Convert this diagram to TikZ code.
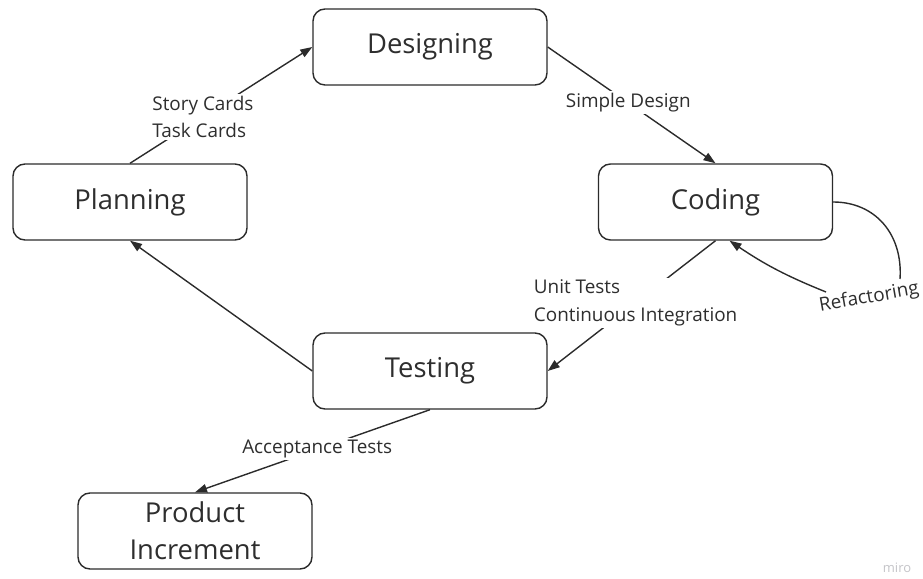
\documentclass[tikz,border=0pt]{standalone}
\usepackage{fontspec}
\setmainfont{Open Sans}
\usetikzlibrary{arrows.meta}
\definecolor{ink}{HTML}{2B2B2B}
\definecolor{txt}{HTML}{2E2E2E}
\definecolor{mark}{HTML}{C4C4C8}
\begin{document}
\begin{tikzpicture}[x=1pt,y=1pt,
  stage/.style={draw=ink, line width=1.4pt, rounded corners=12pt,
    minimum width=234pt, minimum height=76pt, inner sep=0pt,
    font=\fontsize{27.4}{37}\selectfont, text=txt, align=center},
  flow/.style={draw=ink, line width=1.4pt, -{Triangle[length=12pt,width=8.5pt]}},
  plain/.style={draw=ink, line width=1.4pt},
  tag/.style={fill=white, inner sep=2pt, font=\fontsize{18.9}{27.5}\selectfont, text=txt},
]
\useasboundingbox (0,0) rectangle (923,578);

% process stages
\node[stage] (designing) at (430,531)   {Designing};
\node[stage] (planning)  at (130,376) {Planning};
\node[stage] (coding)    at (715.5,376) {Coding};
\node[stage] (testing)   at (430,207) {Testing};
\node[stage] (product)   at (195,47)    {Product\\Increment};

% transitions between stages
\draw[flow] (planning.north) -- node[tag, pos=0.40, align=left] {Story Cards\\Task Cards} (designing.west);
\draw[flow] (designing.east) -- node[tag, pos=0.48] {Simple Design} (coding.north);
\draw[flow] (coding.south) -- node[tag, pos=0.476, align=left] {Unit Tests\\Continuous Integration} (testing.east);
\draw[flow] (testing.west) -- (planning.south);
\draw[flow] (testing.south) -- node[tag, pos=0.48] {Acceptance Tests} (product.north);

% refactoring loop on the coding stage
\node[tag, rotate=10, fill=none, inner sep=1pt] (refac) at (869,280) {Refactoring};
\coordinate (loopout) at (900,299);
\coordinate (loopin)  at (826,286);
\coordinate (loopend) at ([xshift=14pt]coding.south);
\draw[plain] (coding.east) .. controls (875,376) and (903,344) .. (loopout);
\draw[flow] (loopin) to[bend left=6] (loopend);

% watermark
\node[text=mark, font=\fontsize{13}{15}\selectfont] (wm) at (897,10) {miro};
\end{tikzpicture}
\end{document}
